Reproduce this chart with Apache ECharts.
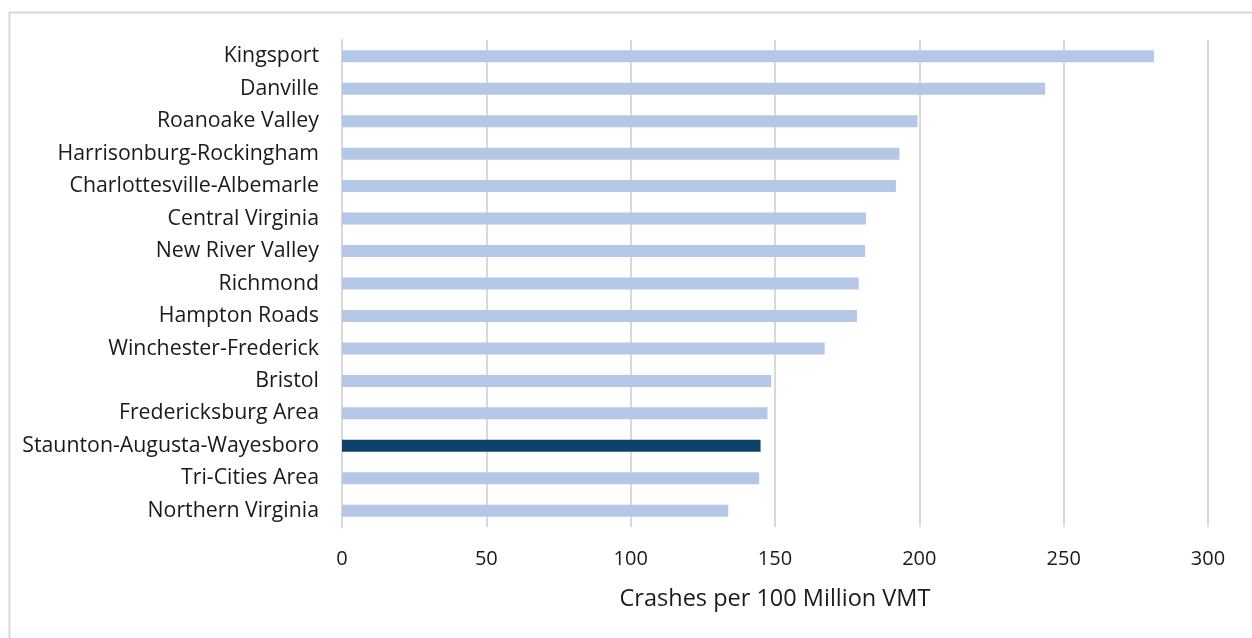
<!DOCTYPE html>
<html>
<head>
<meta charset="utf-8">
<style>
  html, body { margin: 0; padding: 0; background: #ffffff; }
  #chart { width: 1252px; height: 638px; }
</style>
<script src="https://cdn.jsdelivr.net/npm/echarts@6/dist/echarts.min.js"></script>
</head>
<body>
<div id="chart"></div>
<script>
// Regions, listed top to bottom
const regions = [
  'Kingsport',
  'Danville',
  'Roanoake Valley',
  'Harrisonburg-Rockingham',
  'Charlottesville-Albemarle',
  'Central Virginia',
  'New River Valley',
  'Richmond',
  'Hampton Roads',
  'Winchester-Frederick',
  'Bristol',
  'Fredericksburg Area',
  'Staunton-Augusta-Wayesboro',
  'Tri-Cities Area',
  'Northern Virginia'
];
// Crash rate per 100 million vehicle miles travelled
const crashRates = [281.3, 243.6, 199.4, 193.1, 191.9, 181.5, 181.2, 179.0, 178.4, 167.2, 148.7, 147.4, 145.0, 144.5, 133.8];
// Region drawn in the highlight colour
const highlighted = 'Staunton-Augusta-Wayesboro';
const xTicks = [0, 50, 100, 150, 200, 250, 300];

const FONT = '"Open Sans", "Noto Sans", sans-serif';
const chart = echarts.init(document.getElementById('chart'));

chart.setOption({
  animation: false,
  backgroundColor: '#ffffff',
  graphic: [{
    type: 'rect',
    left: 7, top: 10,
    shape: { width: 1270, height: 660 },
    style: { fill: 'none', stroke: '#d9d9d9', lineWidth: 2 },
    silent: true
  }],
  grid: { left: 342, right: 44, top: 40, bottom: 111, containLabel: false },
  xAxis: {
    type: 'value',
    min: xTicks[0],
    max: xTicks[xTicks.length - 1],
    interval: xTicks[1] - xTicks[0],
    name: 'Crashes per 100 Million VMT',
    nameLocation: 'middle',
    nameGap: 60,
    nameTextStyle: { fontFamily: FONT, fontSize: 23.5, color: '#1a1a1a' },
    axisLine: { show: false },
    axisTick: { show: false },
    axisLabel: { fontFamily: FONT, fontSize: 20, color: '#1a1a1a', margin: 22 },
    splitLine: { show: true, lineStyle: { color: '#d9d9d9', width: 2 } }
  },
  yAxis: {
    type: 'category',
    inverse: true,
    data: regions,
    axisLine: { show: true, lineStyle: { color: '#d9d9d9', width: 2 } },
    axisTick: { show: false },
    axisLabel: { fontFamily: FONT, fontSize: 21.3, color: '#1a1a1a', margin: 23 }
  },
  series: [{
    type: 'bar',
    barWidth: 12,
    data: crashRates.map((v, i) => ({
      value: v,
      itemStyle: { color: regions[i] === highlighted ? '#0f4268' : '#b4c7e7' }
    }))
  }]
});
</script>
</body>
</html>
